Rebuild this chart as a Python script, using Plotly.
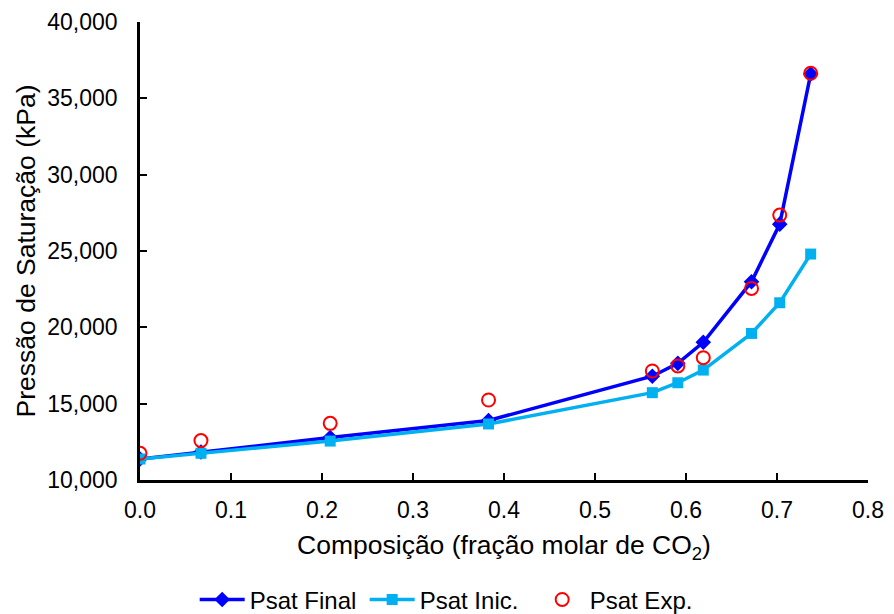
import plotly.graph_objects as go

x_comp = [0.0, 0.067, 0.209, 0.383, 0.563, 0.591, 0.619, 0.672, 0.703, 0.737]
psat_final = [11375, 11830, 12780, 13900, 16800, 17640, 19020, 22990, 26760, 36590]
psat_inic = [11375, 11750, 12550, 13670, 15720, 16370, 17200, 19600, 21610, 24800]
psat_exp = [11750, 12580, 13710, 15240, 17140, 17470, 18010, 22550, 27350, 36640]

FONT = "Liberation Sans, Arial, sans-serif"

fig = go.Figure()
fig.add_trace(go.Scatter(
    x=x_comp, y=psat_final, name="Psat Final", mode="lines+markers",
    line=dict(color="#0000FF", width=3.5),
    marker=dict(symbol="diamond", size=12, color="#0000FF"),
))
fig.add_trace(go.Scatter(
    x=x_comp, y=psat_inic, name="Psat Inic.", mode="lines+markers",
    line=dict(color="#00B0F0", width=3.5),
    marker=dict(symbol="square", size=11, color="#00B0F0"),
))
fig.add_trace(go.Scatter(
    x=x_comp, y=psat_exp, name="Psat Exp.", mode="markers",
    marker=dict(symbol="circle-open", size=13, color="#FF0000", line=dict(width=2, color="#FF0000")),
))

fig.update_layout(
    width=894, height=614,
    margin=dict(l=140, r=26, t=22, b=134),
    paper_bgcolor="white", plot_bgcolor="white",
    font=dict(family=FONT, size=23, color="black"),
    showlegend=True,
    legend=dict(orientation="h", x=0.503, xanchor="center", xref="container",
                y=0.023, yanchor="middle", yref="container",
                font=dict(family=FONT, size=24, color="black"), itemwidth=45,
                entrywidth=110, bgcolor="rgba(0,0,0,0)"),
    xaxis=dict(
        range=[0, 0.8], dtick=0.1, tickformat=".1f",
        showline=True, linecolor="black", linewidth=2.5, mirror=False,
        ticks="inside", ticklen=7, tickwidth=2, tickcolor="black",
        showgrid=False, zeroline=False, automargin=False,
        ticklabelstandoff=8,
        tickfont=dict(family=FONT, size=23, color="black"),
        title=dict(text="Composição (fração molar de CO<sub>2</sub>)",
                   font=dict(family=FONT, size=26.5, color="black"), standoff=14),
    ),
    yaxis=dict(
        range=[10000, 40000], dtick=5000, tickformat=",d",
        showline=True, linecolor="black", linewidth=2.5, mirror=False,
        ticks="inside", ticklen=7, tickwidth=2, tickcolor="black",
        showgrid=False, zeroline=False, automargin=False,
        ticklabelstandoff=15,
        tickfont=dict(family=FONT, size=23, color="black"),
        title=dict(text="Pressão de Saturação (kPa)",
                   font=dict(family=FONT, size=26.5, color="black"), standoff=5),
    ),
)

fig.write_html("out.html")
